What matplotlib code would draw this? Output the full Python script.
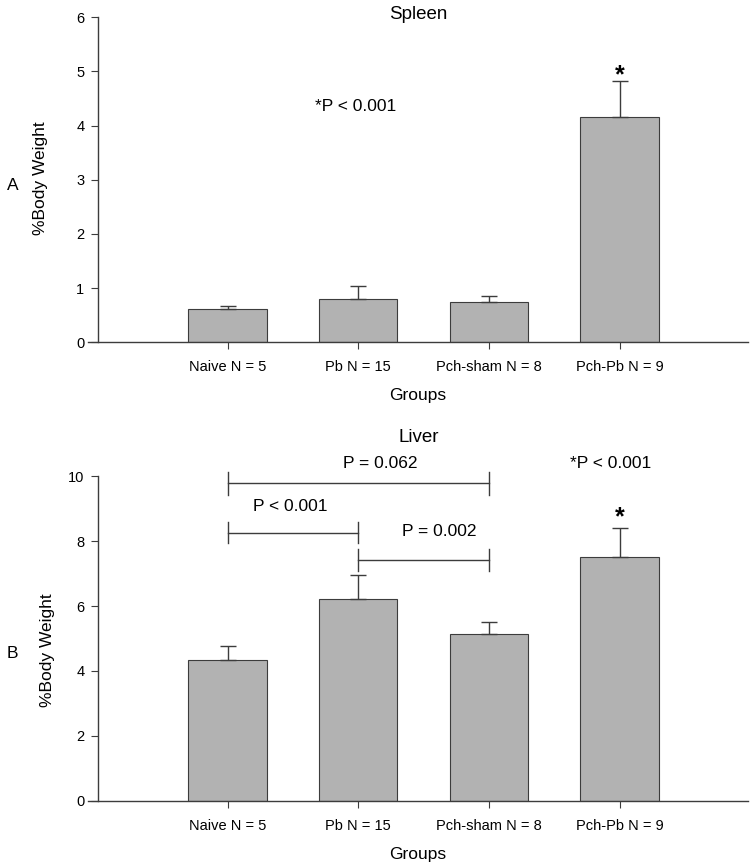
import numpy as np
import matplotlib.pyplot as plt

plt.rcParams['font.family'] = ['Liberation Sans', 'DejaVu Sans']

groups = ['Naive N = 5', 'Pb N = 15', 'Pch-sham N = 8', 'Pch-Pb N = 9']
spleen_mean = [0.62, 0.79, 0.74, 4.16]
spleen_err = [0.04, 0.25, 0.11, 0.66]
liver_mean = [4.35, 6.21, 5.13, 7.50]
liver_err = [0.41, 0.75, 0.37, 0.90]

# brackets: (left group, right group, y, tick half-height, label, label x, label y)
liver_brackets = [
    (0, 2, 9.78, 0.36, 'P = 0.062', 1.17, 10.4),
    (0, 1, 8.26, 0.33, 'P < 0.001', 0.48, 9.07),
    (1, 2, 7.41, 0.33, 'P = 0.002', 1.62, 8.28),
]

bar_col = '#b2b2b2'
edge_col = '#3c3c3c'
x = np.arange(len(groups))

fig = plt.figure(figsize=(7.5, 8.64), dpi=100)
ax1 = fig.add_axes([0.117, 0.604, 0.880, 0.376])
ax2 = fig.add_axes([0.117, 0.073, 0.880, 0.376])


def draw(ax, mean, err, ymax, yticks, ylab_x, ylab_y):
    ax.bar(x, mean, width=0.6, color=bar_col, edgecolor=edge_col, linewidth=0.8, zorder=2)
    ax.errorbar(x, mean, yerr=[np.zeros(len(err)), err], fmt='none', ecolor=edge_col,
                elinewidth=1.0, capsize=6, capthick=1.0, zorder=3)
    ax.set_xlim(-1.07, 3.98)
    ax.set_ylim(0, ymax)
    ax.set_yticks(yticks)
    ax.set_xticks(x)
    ax.set_xticklabels(groups, fontsize=10.5)
    ax.tick_params(axis='y', labelsize=10.5, length=5, pad=5, color=edge_col, direction='out')
    ax.tick_params(axis='x', length=5, color=edge_col, direction='out', pad=8)
    ax.spines['top'].set_visible(False)
    ax.spines['right'].set_visible(False)
    ax.spines['left'].set_position(('data', -0.99))
    for s in ['left', 'bottom']:
        ax.spines[s].set_color(edge_col)
        ax.spines[s].set_linewidth(1.0)
    ax.set_xlabel('Groups', fontsize=12.5, labelpad=10)
    ax.set_ylabel('%Body Weight', fontsize=12.5)
    ax.yaxis.set_label_coords(ylab_x, ylab_y)
    ax.yaxis.label.set_va('center')


draw(ax1, spleen_mean, spleen_err, 6, [0, 1, 2, 3, 4, 5, 6], -0.072, 0.505)
draw(ax2, liver_mean, liver_err, 10, [0, 2, 4, 6, 8, 10], -0.061, 0.465)

ax1.text(1.46, 6.05, 'Spleen', ha='center', va='center', fontsize=13.5, clip_on=False)
ax2.text(1.46, 11.2, 'Liver', ha='center', va='center', fontsize=13.5, clip_on=False)

ax1.text(0.98, 4.35, '*P < 0.001', ha='center', va='center', fontsize=12.5)
ax1.text(3, 4.93, '*', ha='center', va='center', fontsize=18, fontweight='bold')

ax2.text(2.93, 10.4, '*P < 0.001', ha='center', va='center', fontsize=12.5, clip_on=False)
ax2.text(3, 8.72, '*', ha='center', va='center', fontsize=18, fontweight='bold')

for g0, g1, yb, h, lab, lx, ly in liver_brackets:
    ax2.plot([x[g0], x[g1]], [yb, yb], color=edge_col, lw=1.0, clip_on=False)
    ax2.plot([x[g0], x[g0]], [yb - h, yb + h], color=edge_col, lw=1.0, clip_on=False)
    ax2.plot([x[g1], x[g1]], [yb - h, yb + h], color=edge_col, lw=1.0, clip_on=False)
    ax2.text(lx, ly, lab, ha='center', va='center', fontsize=12.5, clip_on=False)

fig.text(0.009, 1 - 185 / 864, 'A', fontsize=12.5, va='center', ha='left')
fig.text(0.009, 1 - 653 / 864, 'B', fontsize=12.5, va='center', ha='left')

fig.savefig('out.png', dpi=100)
